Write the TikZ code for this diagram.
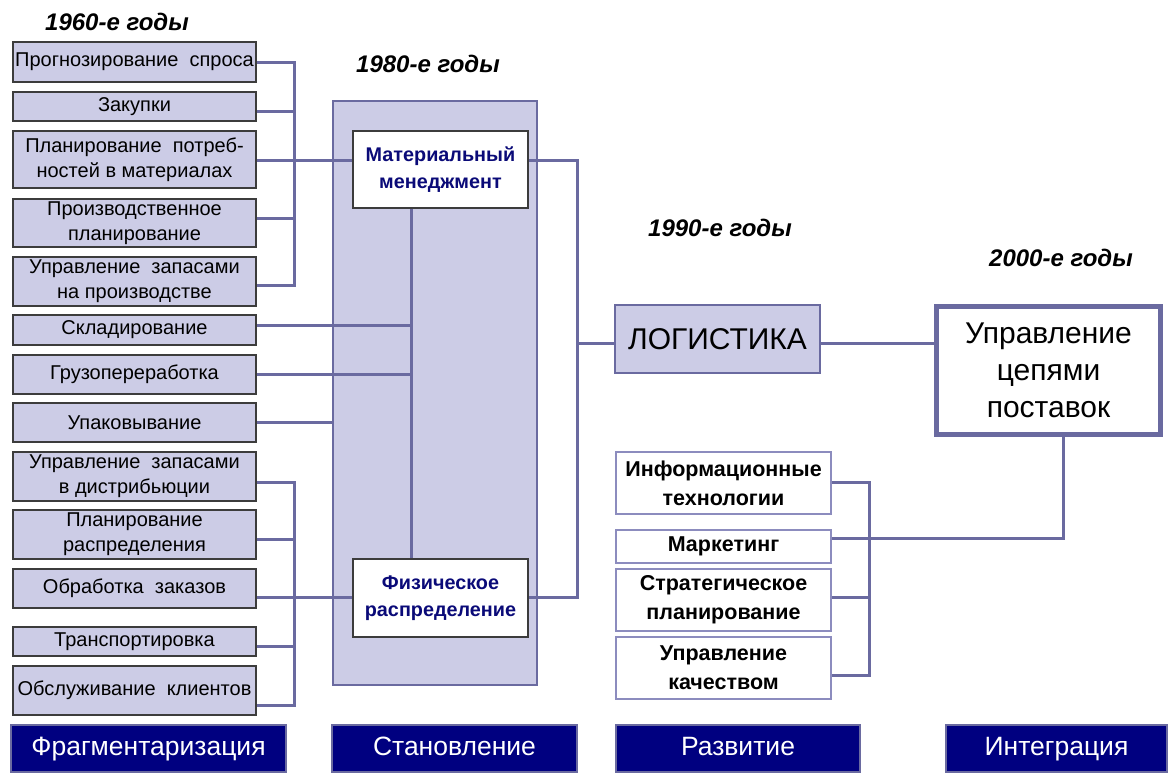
\documentclass[tikz,border=0pt]{standalone}
\usepackage{fontspec}
\setmainfont{Liberation Sans}
\definecolor{lav}{RGB}{204,204,230}
\definecolor{slate}{RGB}{106,106,160}
\definecolor{dgray}{RGB}{60,60,60}
\definecolor{navyb}{RGB}{0,0,128}
\definecolor{mmtext}{RGB}{10,10,120}
\definecolor{rborder}{RGB}{140,140,190}
\begin{document}
\begin{tikzpicture}[x=1pt,y=-1pt,
  conn/.style={draw=slate, line width=3pt},
  lbox/.style={draw=dgray, fill=lav, line width=1.8pt, inner sep=0pt, align=center,
    minimum width=243pt, font=\fontsize{20}{25}\selectfont},
  wbox/.style={draw=dgray, fill=white, line width=1.5pt, inner sep=0pt, align=center,
    minimum width=175pt, text=mmtext, font=\fontsize{19.8}{27}\selectfont\bfseries},
  rbox/.style={draw=rborder, fill=white, line width=1.3pt, inner sep=0pt, align=center,
    minimum width=215pt, font=\fontsize{21.5}{29}\selectfont\bfseries},
  bar/.style={draw=slate, fill=navyb, line width=2pt, inner sep=0pt, text=white,
    minimum height=47pt, text height=19pt, text depth=6pt, font=\fontsize{26.5}{30}\selectfont},
  year/.style={inner sep=0pt, font=\fontsize{24}{26}\selectfont\bfseries\itshape}
]
\useasboundingbox (0,0) rectangle (1170,780);

% year labels
\node[year] (y60) at (117,22) {1960-е годы};
\node[year] (y80) at (428,64) {1980-е годы};
\node[year] (y90) at (720,228) {1990-е годы};
\node[year] (y00) at (1061,258) {2000-е годы};

% big stage rectangle
\node[draw=slate, fill=lav, line width=2.5pt, minimum width=204pt, minimum height=584pt, inner sep=0pt] (stage) at (435,393) {};

% left boxes
\node[lbox, minimum height=40pt] (l1) at (134.5,62) {Прогнозирование\ \ спроса};
\node[lbox, minimum height=29pt] (l2) at (134.5,106.5) {Закупки};
\node[lbox, minimum height=57pt] (l3) at (134.5,159.5) {Планирование\ \ потреб-\\ностей в материалах};
\node[lbox, minimum height=48pt] (l4) at (134.5,223) {Производственное\\планирование};
\node[lbox, minimum height=49pt] (l5) at (134.5,281.5) {Управление\ \ запасами\\на производстве};
\node[lbox, minimum height=30pt] (l6) at (134.5,330) {Складирование};
\node[lbox, minimum height=39pt] (l7) at (134.5,374.5) {Грузопереработка};
\node[lbox, minimum height=39pt] (l8) at (134.5,422.5) {Упаковывание};
\node[lbox, minimum height=49pt] (l9) at (134.5,476.5) {Управление\ \ запасами\\в дистрибьюции};
\node[lbox, minimum height=49pt] (l10) at (134.5,534.5) {Планирование\\распределения};
\node[lbox, minimum height=39pt] (l11) at (134.5,588.5) {Обработка\ \ заказов};
\node[lbox, minimum height=29pt] (l12) at (134.5,641.5) {Транспортировка};
\node[lbox, minimum height=49pt] (l13) at (134.5,690.5) {Обслуживание\ \ клиентов};

% inner white boxes
\node[wbox, minimum height=77pt] (mm) at (440.5,169.5) {Материальный\\менеджмент};
\node[wbox, minimum height=78pt] (fr) at (440.5,598) {Физическое\\распределение};

% logistics and SCM
\node[draw=slate, fill=lav, line width=2.5pt, minimum width=205pt, minimum height=68pt, inner sep=0pt,
  font=\fontsize{30}{34}\selectfont] (log) at (717.5,339) {ЛОГИСТИКА};
\node[draw=slate, fill=white, line width=5pt, minimum width=224pt, minimum height=128pt, inner sep=0pt,
  align=center, font=\fontsize{30}{37}\selectfont] (scm) at (1048.5,370.5) {Управление\\цепями\\поставок};

% right boxes
\node[rbox, minimum height=62pt] (it) at (723.5,483) {Информационные\\технологии};
\node[rbox, minimum height=33pt] (mk) at (723.5,546.5) {Маркетинг};
\node[rbox, minimum height=62pt] (st) at (723.5,600) {Стратегическое\\планирование};
\node[rbox, minimum height=62pt] (uq) at (723.5,668) {Управление\\качеством};

% bottom bars
\node[bar, minimum width=275pt] (bf) at (148.5,748.5) {Фрагментаризация};
\node[bar, minimum width=245pt] (bs) at (454.5,748.5) {Становление};
\node[bar, minimum width=244pt] (br) at (738,748.5) {Развитие};
\node[bar, minimum width=221pt] (bi) at (1056.5,748.5) {Интеграция};

% bus coordinates
\coordinate (t1) at (294,62);
\coordinate (t2) at (294,111);
\coordinate (t3) at (294,160);
\coordinate (t4) at (294,218);
\coordinate (t5) at (294,285);
\coordinate (v6) at (411,325);
\coordinate (v7) at (411,374);
\coordinate (b9) at (294,482);
\coordinate (b10) at (294,539);
\coordinate (b11) at (294,597);
\coordinate (b12) at (294,646);
\coordinate (b13) at (294,705);
\coordinate (r1) at (577,160);
\coordinate (r2) at (577,597);
\coordinate (rl) at (577,343);
\coordinate (sc) at (1063,538);
\coordinate (k1) at (869,482);
\coordinate (k3) at (869,597);
\coordinate (k4) at (869,675);

% connectors
\draw[conn] (l1.east |- t1) -- (t1) -- (t5) -- (l5.east |- t5);
\draw[conn] (l2.east |- t2) -- (t2);
\draw[conn] (l3.east |- t3) -- (mm.west |- t3);
\draw[conn] (l4.east |- t4) -- (t4);
\draw[conn] (l6.east |- v6) -- (v6);
\draw[conn] (l7.east |- v7) -- (v7);
\draw[conn] (l8.east) -- (stage.west |- l8.east);
\draw[conn] (mm.south -| v6) -- (fr.north -| v6);
\draw[conn] (l9.east |- b9) -- (b9) -- (b13) -- (l13.east |- b13);
\draw[conn] (l10.east |- b10) -- (b10);
\draw[conn] (l11.east |- b11) -- (fr.west |- b11);
\draw[conn] (l12.east |- b12) -- (b12);
\draw[conn] (mm.east |- r1) -- (r1) -- (r2) -- (fr.east |- r2);
\draw[conn] (rl) -- (log.west |- rl);
\draw[conn] (log.east |- rl) -- (scm.west |- rl);
\draw[conn] (scm.south -| sc) -- (sc) -- (mk.east |- sc);
\draw[conn] (it.east |- k1) -- (k1) -- (k4) -- (uq.east |- k4);
\draw[conn] (st.east |- k3) -- (k3);
\end{tikzpicture}
\end{document}
